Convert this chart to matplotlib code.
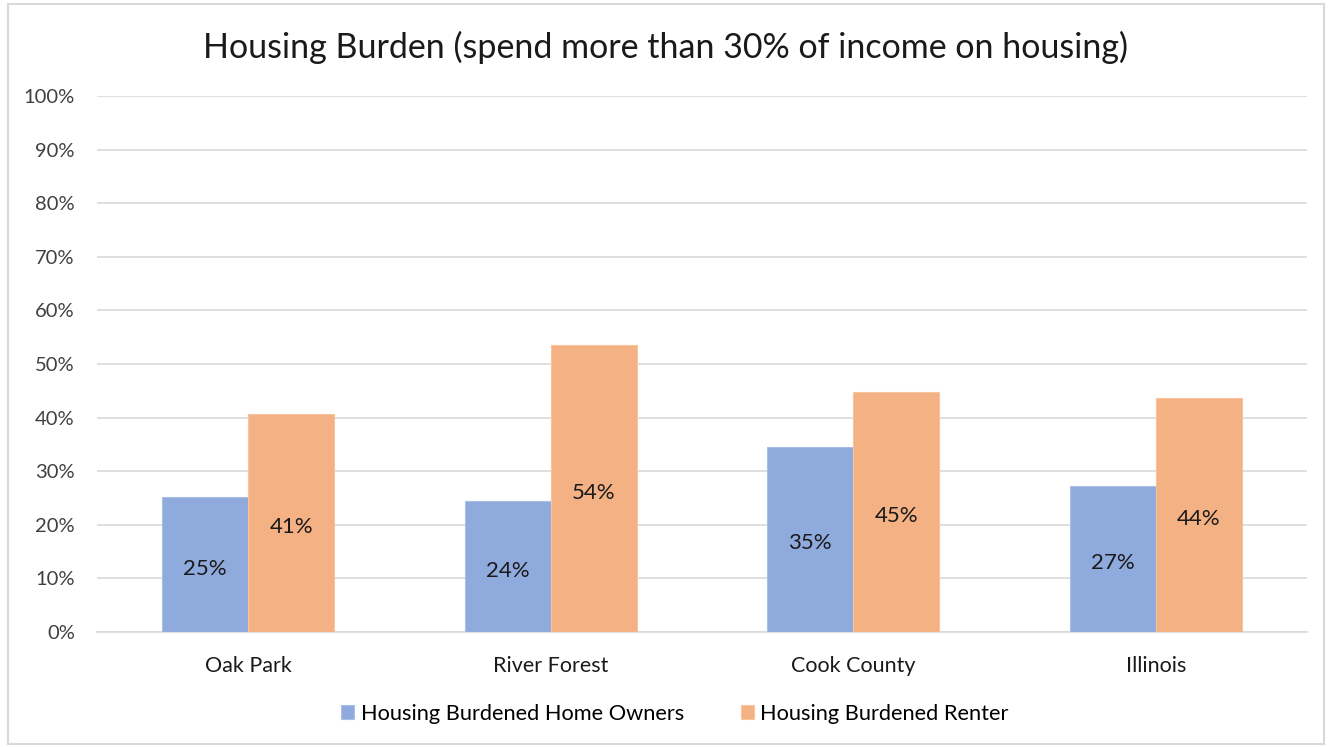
import matplotlib
matplotlib.use("Agg")
import matplotlib.pyplot as plt
import numpy as np
from matplotlib.patches import Rectangle

categories = ["Oak Park", "River Forest", "Cook County", "Illinois"]
owners = [0.251, 0.245, 0.346, 0.273]
renters = [0.407, 0.536, 0.448, 0.436]
series_names = ["Housing Burdened Home Owners", "Housing Burdened Renter"]
yticks = np.arange(0, 1.01, 0.1)
ytick_labels = [f"{int(round(v*100))}%" for v in yticks]

plt.rcParams['font.family'] = ['Lato', 'DejaVu Sans']

fig = plt.figure(figsize=(13.31, 7.47), dpi=100)
ax = fig.add_axes([97/1331, 115/747, 1210/1331, 536/747])

blue = "#8FAADC"
orange = "#F4B183"
x = np.arange(len(categories))
w = 0.284
b1 = ax.bar(x - w/2, owners, w, color=blue, edgecolor="#A9BFE6", linewidth=0.8, label=series_names[0], zorder=3)
b2 = ax.bar(x + w/2, renters, w, color=orange, edgecolor="#F7C49E", linewidth=0.8, label=series_names[1], zorder=3)

for bars, vals in ((b1, owners), (b2, renters)):
    for bar, v in zip(bars, vals):
        ax.annotate(f"{round(v*100):.0f}%", (bar.get_x() + bar.get_width()/2, v/2),
                    xytext=(0, -3), textcoords="offset points",
                    ha="center", va="center", fontsize=16, color="#1a1a1a", zorder=4)

ax.set_xlim(-0.5, len(categories) - 0.5)
ax.set_ylim(0, 1.0)
ax.set_yticks(yticks)
ax.set_yticklabels(ytick_labels, fontsize=14.5, color="#404040")
ax.set_xticks(x)
ax.set_xticklabels(categories, fontsize=15.5, color="#1a1a1a")
ax.tick_params(axis="y", length=0, pad=16)
ax.tick_params(axis="x", length=0, pad=17)
ax.grid(axis="y", color="#D9D9D9", linewidth=1.2, zorder=0)
for s in ["top", "right", "left"]:
    ax.spines[s].set_visible(False)
ax.spines["bottom"].set_color("#D9D9D9")
ax.spines["bottom"].set_linewidth(1.2)

fig.text(0.5, 1 - 47/747, "Housing Burden (spend more than 30% of income on housing)",
         ha="center", va="center", fontsize=24.5, color="#1a1a1a")

leg = fig.legend(handles=[b1, b2], labels=series_names, loc="center",
                 bbox_to_anchor=(675/1331, 1 - 714/747), ncol=2, frameon=False,
                 fontsize=15.7, handlelength=0.6, handleheight=0.6, columnspacing=2.6,
                 handletextpad=0.3)

fig.patches.append(Rectangle((8/1331, 3/747), 1316/1331, 740/747, transform=fig.transFigure,
                             fill=False, edgecolor="#D9D9D9", linewidth=1.5))

fig.savefig("out.png", dpi=100, facecolor="white")
